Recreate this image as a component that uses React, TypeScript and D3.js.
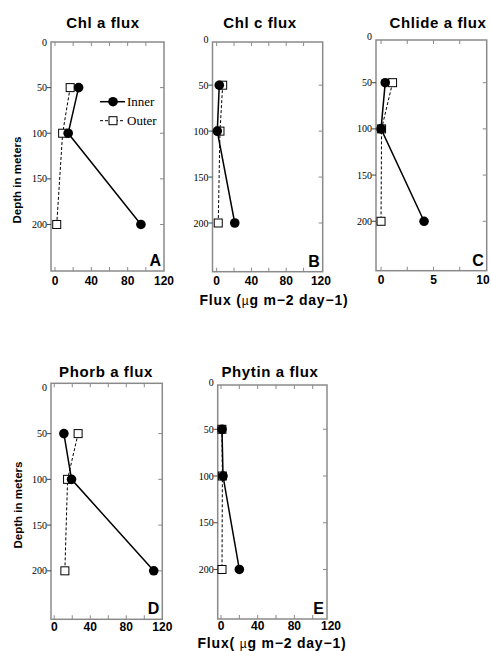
import React, { useEffect, useRef } from 'react';
import * as d3 from 'd3';

// depths sampled (m)
const depths = [50, 100, 200];

// flux values, ug m-2 day-1
const chlaInner = [26, 14.5, 94.6];
const chlaOuter = [16.7, 8.4, 1.9];
const chlcInner = [3, 0.7, 20.8];
const chlcOuter = [6.9, 3.8, 1.8];
const chlideInner = [0.4, 0, 4.1];
const chlideOuter = [1.1, 0.05, 0];
const phorbInner = [10.7, 19.2, 110.5];
const phorbOuter = [26.5, 14.8, 11.8];
const phytinInner = [1.1, 2.2, 20];
const phytinOuter = [1, 1.5, 1.1];

const titles = ['Chl a flux', 'Chl c flux', 'Chlide a flux', 'Phorb a flux', 'Phytin a flux'];
const letters = ['A', 'B', 'C', 'D', 'E'];
const depthTicks = [0, 50, 100, 150, 200];
const fluxTicks = [0, 20, 40, 60, 80, 100, 120];
const fluxLabels = [0, 40, 80, 120];
const smallTicks = [0, 2.5, 5, 7.5, 10];
const smallLabels = [0, 5, 10];

// frame boxes and domains for each small panel
const panels = [
  { x0: 51, x1: 164, y0: 42, y1: 271, lab: 13.5, xd: [-4.4, 120], yd: [0, 251], inner: chlaInner, outer: chlaOuter, ticks: fluxTicks, labels: fluxLabels },
  { x0: 212.5, x1: 322.7, y0: 42, y1: 271.7, lab: 13.5, xd: [-4.8, 122], yd: [3, 253], inner: chlcInner, outer: chlcOuter, ticks: fluxTicks, labels: fluxLabels },
  { x0: 376, x1: 486.7, y0: 40, y1: 270.7, lab: 13.5, xd: [-0.48, 10.07], yd: [3.8, 253.5], inner: chlideInner, outer: chlideOuter, ticks: smallTicks, labels: smallLabels },
  { x0: 51, x1: 162.3, y0: 383.3, y1: 619.3, lab: 12, xd: [-3.6, 120], yd: [-5, 253], inner: phorbInner, outer: phorbOuter, ticks: fluxTicks, labels: fluxLabels },
  { x0: 217.7, x1: 327, y0: 385, y1: 619, lab: 10.5, xd: [-3.6, 115.6], yd: [2.6, 253], inner: phytinInner, outer: phytinOuter, ticks: fluxTicks, labels: fluxLabels },
];

const titlePos = [[103, 28], [260, 28], [438, 28], [106, 377], [270, 377]];

const App = () => {
  const svgRef = useRef();
  const width = 491, height = 651;

  useEffect(() => {
    const svg = d3.select(svgRef.current);
    svg.selectAll('*').remove();
    const sans = 'Liberation Sans, Arial, sans-serif';
    const serif = 'Liberation Serif, Times New Roman, serif';
    const frameColor = '#8a8a8a';

    panels.forEach((p, i) => {
      const g = svg.append('g');
      const x = d3.scaleLinear().domain(p.xd).range([p.x0, p.x1]);
      const y = d3.scaleLinear().domain(p.yd).range([p.y0, p.y1]);

      // frame
      g.append('rect')
        .attr('x', p.x0).attr('y', p.y0)
        .attr('width', p.x1 - p.x0).attr('height', p.y1 - p.y0)
        .attr('fill', 'none').attr('stroke', frameColor).attr('stroke-width', 1.5);

      // top / bottom inward ticks
      const xt = p.ticks.filter(t => x(t) > p.x0 + 2 && x(t) < p.x1 - 2);
      g.selectAll('line.xtb').data(xt).enter().append('line')
        .attr('x1', d => x(d)).attr('x2', d => x(d))
        .attr('y1', p.y1).attr('y2', p.y1 - 4)
        .attr('stroke', frameColor).attr('stroke-width', 1);
      g.selectAll('line.xtt').data(xt).enter().append('line')
        .attr('x1', d => x(d)).attr('x2', d => x(d))
        .attr('y1', p.y0).attr('y2', p.y0 + 4)
        .attr('stroke', frameColor).attr('stroke-width', 1);

      g.selectAll('text.xl').data(p.labels).enter().append('text')
        .attr('x', d => Math.min(x(d), width - 8)).attr('y', p.y1 + p.lab)
        .attr('text-anchor', 'middle')
        .attr('font-family', sans).attr('font-weight', 'bold').attr('font-size', 12)
        .text(d => d);

      // depth ticks: outward on left, inward on right
      const yt = depthTicks.filter(t => t > 0);
      g.selectAll('line.ytl').data(yt).enter().append('line')
        .attr('x1', p.x0 - 4).attr('x2', p.x0)
        .attr('y1', d => y(d)).attr('y2', d => y(d))
        .attr('stroke', '#444').attr('stroke-width', 1);
      g.selectAll('line.ytr').data(yt).enter().append('line')
        .attr('x1', p.x1 - 4).attr('x2', p.x1)
        .attr('y1', d => y(d)).attr('y2', d => y(d))
        .attr('stroke', frameColor).attr('stroke-width', 1);

      g.selectAll('text.yl').data(depthTicks).enter().append('text')
        .attr('x', p.x0 - 4).attr('y', d => y(d) + 3.5)
        .attr('text-anchor', 'end')
        .attr('font-family', serif).attr('font-size', 10)
        .text(d => d);

      // series
      const line = d3.line().x(d => x(d[0])).y(d => y(d[1]));
      const outerPts = p.outer.map((v, k) => [v, depths[k]]);
      const innerPts = p.inner.map((v, k) => [v, depths[k]]);

      g.append('path').datum(outerPts).attr('d', line)
        .attr('fill', 'none').attr('stroke', '#000').attr('stroke-width', 1)
        .attr('stroke-dasharray', '3,2');
      g.append('path').datum(innerPts).attr('d', line)
        .attr('fill', 'none').attr('stroke', '#000').attr('stroke-width', 1.5);

      g.selectAll('rect.outer').data(outerPts).enter().append('rect')
        .attr('x', d => x(d[0]) - 4).attr('y', d => y(d[1]) - 4)
        .attr('width', 8).attr('height', 8)
        .attr('fill', '#fff').attr('stroke', '#000').attr('stroke-width', 1);
      g.selectAll('circle.inner').data(innerPts).enter().append('circle')
        .attr('cx', d => x(d[0])).attr('cy', d => y(d[1]))
        .attr('r', 4.8).attr('fill', '#000');

      // title and panel letter
      g.append('text')
        .attr('x', titlePos[i][0]).attr('y', titlePos[i][1])
        .attr('text-anchor', 'middle')
        .attr('font-family', sans).attr('font-weight', 'bold').attr('font-size', 15)
        .attr('letter-spacing', 0.6)
        .text(titles[i]);
      g.append('text')
        .attr('x', p.x1 - 3).attr('y', p.y1 - 5)
        .attr('text-anchor', 'end')
        .attr('font-family', sans).attr('font-weight', 'bold').attr('font-size', 16)
        .text(letters[i]);
    });

    // legend in panel A
    const leg = svg.append('g');
    const legRows = [
      { label: 'Inner', y: 101.7, dash: null },
      { label: 'Outer', y: 120.7, dash: '3,2' },
    ];
    legRows.forEach(r => {
      leg.append('line')
        .attr('x1', 100).attr('x2', 125).attr('y1', r.y).attr('y2', r.y)
        .attr('stroke', '#000').attr('stroke-width', r.dash ? 1 : 1.5)
        .attr('stroke-dasharray', r.dash);
      if (r.dash) {
        leg.append('rect').attr('x', 109).attr('y', r.y - 4).attr('width', 8).attr('height', 8)
          .attr('fill', '#fff').attr('stroke', '#000');
      } else {
        leg.append('circle').attr('cx', 113).attr('cy', r.y).attr('r', 4.8).attr('fill', '#000');
      }
      leg.append('text')
        .attr('x', 127).attr('y', r.y + 4.5)
        .attr('font-family', serif).attr('font-size', 13)
        .text(r.label);
    });

    // axis titles
    const yTitles = [[17, 180], [18, 505]];
    yTitles.forEach(([tx, ty]) => {
      svg.append('text')
        .attr('transform', `translate(${tx},${ty}) rotate(-90)`)
        .attr('text-anchor', 'middle').attr('dy', '0.35em')
        .attr('font-family', sans).attr('font-weight', 'bold').attr('font-size', 11.5)
        .text('Depth in meters');
    });

    const xTitles = [[274, 305, 'Flux ('], [272, 648, 'Flux( ']];
    xTitles.forEach(([tx, ty, pre]) => {
      const t = svg.append('text')
        .attr('x', tx).attr('y', ty)
        .attr('text-anchor', 'middle')
        .attr('font-family', sans).attr('font-weight', 'bold').attr('font-size', 14)
        .attr('letter-spacing', 0.8);
      t.append('tspan').text(pre);
      t.append('tspan').attr('font-weight', 'normal').attr('font-size', 12).text('\u00b5');
      t.append('tspan').text('g m\u22122 day\u22121)');
    });
  }, []);

  return (
    <svg ref={svgRef} width={width} height={height}
      style={{ position: 'absolute', left: 0, top: 0, background: '#fff' }}></svg>
  );
};

export default App;
